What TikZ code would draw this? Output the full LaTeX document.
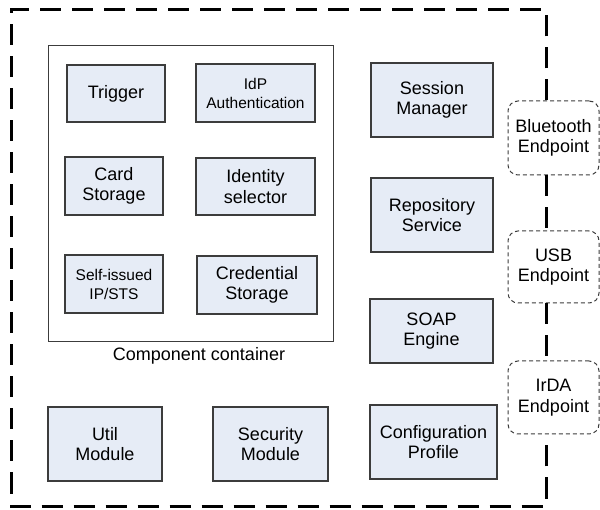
\documentclass[tikz,border=0pt]{standalone}
\usepackage{fontspec}
\setmainfont{Liberation Sans}
\usetikzlibrary{positioning}
\definecolor{boxfill}{RGB}{230,236,246}
\definecolor{boxline}{RGB}{60,60,60}
\tikzset{
  comp/.style={draw=boxline, fill=boxfill, line width=1.2pt, inner sep=0pt,
    align=center, font=\fontsize{18}{20.5}\selectfont},
  compsmall/.style={comp, font=\fontsize{15.5}{19}\selectfont},
  endpt/.style={draw=boxline, fill=white, line width=1pt, dash pattern=on 4pt off 3pt,
    rounded corners=10pt, inner sep=0pt, align=center,
    minimum width=91pt, font=\fontsize{18}{20.5}\selectfont},
  outerdash/.style={draw=black, line width=3pt, dash pattern=on 21pt off 11pt},
  container/.style={draw=boxline, line width=1pt}
}
\begin{document}
\begin{tikzpicture}[x=1pt, y=-1pt]
\useasboundingbox (0,0) rectangle (600,510);
% outer frame corners
\coordinate (tl) at (11,10);
\coordinate (br) at (546,506);

% component container
\draw[container] (48,46) rectangle (333,342);
\node[anchor=base, font=\fontsize{18}{20.5}\selectfont] (cclabel) at (199,361) {Component container};

% components inside the container
\node[comp, minimum width=98pt, minimum height=57pt] (trig) at (116,93.5) {Trigger};
\node[compsmall, minimum width=119pt, minimum height=58pt] (idp) at (255.5,93) {IdP\\Authentication};
\node[comp, minimum width=98pt, minimum height=58pt] (card) at (114,186) {Card\\Storage};
\node[comp, minimum width=119pt, minimum height=57pt] (ids) at (255.5,186.5) {Identity\\selector};
\node[compsmall, minimum width=98pt, minimum height=58pt] (self) at (114,284) {Self-issued\\IP/STS};
\node[comp, minimum width=120pt, minimum height=58pt] (cred) at (257,285) {Credential\\Storage};

% right column
\node[comp, minimum width=122pt, minimum height=74pt] (sess) at (432,100) {Session\\Manager};
\node[comp, minimum width=122pt, minimum height=74pt] (repo) at (432,215) {Repository\\Service};
\node[comp, minimum width=123pt, minimum height=64pt] (soap) at (431.5,331) {SOAP\\Engine};

% bottom row
\node[comp, minimum width=114pt, minimum height=74pt] (util) at (105,444) {Util\\Module};
\node[comp, minimum width=115pt, minimum height=74pt] (sec) at (270.5,444) {Security\\Module};
\node[comp, minimum width=127pt, minimum height=74pt] (conf) at (433.5,442) {Configuration\\Profile};

% endpoints
\node[endpt, minimum height=74pt] (bt) at (553.5,138) {Bluetooth\\Endpoint};
\node[endpt, minimum height=72pt] (usb) at (553.5,267) {USB\\Endpoint};
\node[endpt, minimum height=73pt] (ir) at (553.5,397.5) {IrDA\\Endpoint};

% outer dashed boundary through the endpoints
\draw[outerdash] (bt.north -| br) |- (tl) |- (br) -- (ir.south -| br);
\draw[outerdash] (bt.south -| br) -- (usb.north -| br);
\draw[outerdash] (usb.south -| br) -- (ir.north -| br);
\end{tikzpicture}
\end{document}
